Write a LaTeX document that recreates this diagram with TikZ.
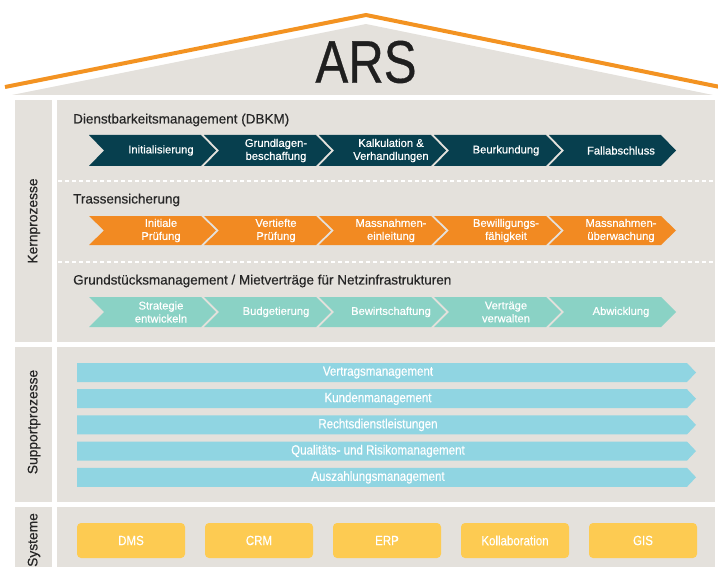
\documentclass[tikz,border=0pt]{standalone}
\usepackage{fontspec}
\setmainfont{Liberation Sans}
\newfontfamily\medfont[FakeBold=0.45]{Liberation Sans}
\newfontfamily\condfont[FakeStretch=0.86,FakeBold=0.35]{Liberation Sans}
\newfontfamily\arsfont[FakeStretch=0.82,FakeBold=0.5]{Liberation Sans}
\definecolor{panelgray}{HTML}{E4E1DC}
\definecolor{roofor}{HTML}{F39322}
\definecolor{darkteal}{HTML}{073F4E}
\definecolor{procor}{HTML}{F28A22}
\definecolor{mint}{HTML}{8AD2C5}
\definecolor{skyblue}{HTML}{90D5E2}
\definecolor{sysyellow}{HTML}{FDCB52}
\definecolor{titlegray}{HTML}{262626}
\newcommand\chevshape[4]{%
  \fill[#4] (#1,#2) -- ({#1+112},#2) -- ({#1+127},{(#2+#3)/2}) -- ({#1+112},#3) -- (#1,#3) -- ({#1+15},{(#2+#3)/2}) -- cycle;}
\tikzset{
  panel/.style={fill=panelgray},
  chevtext/.style={text=white, font=\medfont\fontsize{11.2}{13}\selectfont, align=center, inner sep=0pt},
  sectitle/.style={text=titlegray, font=\medfont\fontsize{13.5}{15}\selectfont, anchor=west, inner sep=0pt},
  sidelabel/.style={text=titlegray, font=\medfont\fontsize{13.8}{15}\selectfont, rotate=90, inner sep=0pt},
  bartext/.style={text=white, font=\condfont\fontsize{13.4}{15}\selectfont, inner sep=0pt},
  sysbox/.style={fill=sysyellow, rounded corners=4pt},
  dashsep/.style={draw=white, line width=2pt, dash pattern=on 4pt off 3pt}
}
\begin{document}
\begin{tikzpicture}[x=1pt,y=-1pt]
\useasboundingbox (0,0) rectangle (718,567);
% roof
\fill[panelgray] (12,95) -- (366,24) -- (713,95) -- cycle;
\draw[roofor, line width=4pt, line join=miter] (5,87) -- (366,15) -- (720,87);
\node[font=\arsfont\fontsize{60}{60}\selectfont, text=black!88, inner sep=0pt] (ars) at (366,62) {ARS};
% panels
\fill[panel] (15,100) rectangle (52,342);
\fill[panel] (57,100) rectangle (715,342);
\fill[panel] (15,347) rectangle (52,502);
\fill[panel] (57,347) rectangle (715,502);
\fill[panel] (15,507) rectangle (52,567);
\fill[panel] (57,507) rectangle (715,567);
% side labels
\node[sidelabel] (lkern) at (34,221) {Kernprozesse};
\node[sidelabel] (lsupp) at (34,422) {Supportprozesse};
\node[sidelabel] (lsys) at (34,540) {Systeme};
% dashed separators
\draw[dashsep] (58,181) -- (715,181);
\draw[dashsep] (58,262) -- (715,262);
% section titles
\node[sectitle] (t1) at (73,120) {Dienstbarkeitsmanagement (DBKM)};
\node[sectitle] (t2) at (73,200) {Trassensicherung};
\node[sectitle] (t3) at (73,281) {Grundstücksmanagement / Mietverträge für Netzinfrastrukturen};
% row 1
\foreach \i/\lab in {0/Initialisierung, 1/{Grundlagen-\\beschaffung}, 2/{Kalkulation \&\\Verhandlungen}, 3/Beurkundung, 4/Fallabschluss}{
  \chevshape{89+115*\i}{135}{166}{darkteal}
  \node[chevtext] (ra\i) at ({89+115*\i+72},150.5) {\lab};
}
% row 2
\foreach \i/\lab in {0/{Initiale\\Prüfung}, 1/{Vertiefte\\Prüfung}, 2/{Massnahmen-\\einleitung}, 3/{Bewilligungs-\\fähigkeit}, 4/{Massnahmen-\\überwachung}}{
  \chevshape{89+115*\i}{216}{245}{procor}
  \node[chevtext] (rb\i) at ({89+115*\i+72},230.5) {\lab};
}
% row 3
\foreach \i/\lab in {0/{Strategie\\entwickeln}, 1/Budgetierung, 2/Bewirtschaftung, 3/{Verträge\\verwalten}, 4/Abwicklung}{
  \chevshape{89+115*\i}{297}{327}{mint}
  \node[chevtext] (rc\i) at ({89+115*\i+72},312) {\lab};
}
% support bars
\foreach \i/\lab in {0/Vertragsmanagement, 1/Kundenmanagement, 2/Rechtsdienstleistungen, 3/Qualitäts- und Risikomanagement, 4/Auszahlungsmanagement}{
  \fill[skyblue] (77,{363+26.2*\i}) -- (687,{363+26.2*\i}) -- (696,{372.5+26.2*\i}) -- (687,{382+26.2*\i}) -- (77,{382+26.2*\i}) -- cycle;
  \node[bartext] (sb\i) at (378,{372.5+26.2*\i}) {\lab};
}
% systems
\foreach \i/\lab in {0/DMS, 1/CRM, 2/ERP, 3/Kollaboration, 4/GIS}{
  \fill[sysbox] ({77+128*\i},523) rectangle ({185+128*\i},558);
  \node[bartext] (sy\i) at ({131+128*\i},540.5) {\lab};
}
\end{tikzpicture}
\end{document}
